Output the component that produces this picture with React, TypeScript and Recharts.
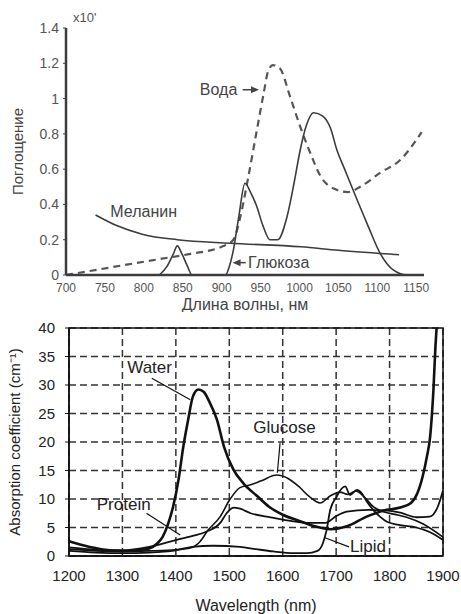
import {
	CartesianGrid,
	Line,
	LineChart,
	ReferenceArea,
	ReferenceDot,
	ReferenceLine,
	XAxis,
	YAxis,
} from "recharts";

const FONT = "'Liberation Sans', Arial, sans-serif";

// --- top chart (700-1150 nm) ---
const topXTicks = [700, 750, 800, 850, 900, 950, 1000, 1050, 1100, 1150];
const topYTicks = [0, 0.2, 0.4, 0.6, 0.8, 1, 1.2, 1.4];

const vodaNm = [700, 740, 780, 820, 860, 900, 915, 924, 934, 946, 954, 960, 966, 975, 988, 1001, 1014, 1027, 1044, 1062, 1078, 1104, 1129, 1157];
const vodaVal = [0, 0.03, 0.06, 0.09, 0.12, 0.16, 0.2, 0.33, 0.55, 0.84, 1.03, 1.16, 1.19, 1.17, 1.01, 0.84, 0.69, 0.56, 0.49, 0.47, 0.5, 0.58, 0.65, 0.81];

const glukozaNm = [820, 830, 838, 843, 849, 856, 862, 905, 910, 915, 922, 930, 937, 945, 953, 962, 972, 984, 993, 1001, 1009, 1018, 1030, 1040, 1048, 1058, 1069, 1087, 1104, 1120, 1138, 1150];
const glukozaVal = [0, 0.05, 0.12, 0.165, 0.12, 0.05, 0, 0, 0.05, 0.14, 0.33, 0.52, 0.47, 0.39, 0.28, 0.2, 0.2, 0.33, 0.52, 0.71, 0.85, 0.92, 0.9, 0.83, 0.71, 0.6, 0.48, 0.29, 0.12, 0.03, 0, 0];

const melaninNm = [738, 765, 799, 843, 911, 1002, 1050, 1128];
const melaninVal = [0.34, 0.28, 0.23, 0.2, 0.18, 0.16, 0.14, 0.115];

// --- bottom chart (1200-1900 nm) ---
const botXTicks = [1200, 1300, 1400, 1500, 1600, 1700, 1800, 1900];
const botYTicks = [0, 5, 10, 15, 20, 25, 30, 35, 40];

const waterNm = [1200, 1230, 1260, 1300, 1330, 1350, 1365, 1375, 1385, 1395, 1405, 1414, 1423, 1432, 1442, 1452, 1463, 1477, 1490, 1508, 1526, 1551, 1575, 1601, 1630, 1660, 1690, 1720, 1757, 1789, 1820, 1840, 1852, 1862, 1870, 1876, 1882, 1886, 1888];
const waterVal = [2.6, 1.8, 1.2, 0.9, 1.0, 1.3, 2.2, 3.3, 5.5, 8.7, 13.4, 19.2, 23.9, 28, 29.2, 28.8, 27, 23.9, 19.2, 15.1, 12.8, 10.6, 8.6, 7.2, 6.2, 5.2, 4.7, 5.2, 6.9, 8.0, 8.5, 9.3, 11, 14, 17.5, 21, 29, 37, 40];

const proteinNm = [1200, 1250, 1300, 1350, 1400, 1430, 1458, 1483, 1495, 1508, 1520, 1540, 1570, 1600, 1650, 1680, 1700, 1720, 1760, 1790, 1820, 1850, 1875, 1890, 1900];
const proteinVal = [1.5, 1.1, 1.0, 1.6, 2.8, 3.5, 4.3, 5.8, 7.5, 8.5, 8.3, 7.5, 6.9, 6.4, 5.8, 5.8, 7, 7.8, 8.1, 8.0, 7.6, 6.8, 6.9, 8.6, 11.5];

const glucoseNm = [1200, 1250, 1300, 1350, 1400, 1430, 1445, 1460, 1483, 1501, 1520, 1540, 1560, 1589, 1610, 1630, 1650, 1670, 1690, 1707, 1722, 1737, 1752, 1770, 1790, 1810, 1832, 1863, 1900];
const glucoseVal = [1.2, 0.9, 0.8, 0.9, 1.1, 1.5, 2.5, 4.5, 6.9, 9.9, 12, 12.5, 13.2, 14.2, 13.6, 12.2, 10.4, 9.3, 10.6, 11.2, 10.8, 11.4, 10.4, 8.6, 7.7, 7.3, 6.8, 5.6, 3.3];

const lipidNm = [1200, 1250, 1300, 1350, 1400, 1430, 1470, 1520, 1550, 1582, 1620, 1645, 1665, 1675, 1682, 1689, 1701, 1710, 1717, 1726, 1739, 1748, 1757, 1770, 1782, 1795, 1820, 1850, 1875, 1900];
const lipidVal = [0.9, 0.6, 0.5, 0.6, 1.0, 1.6, 1.8, 1.6, 1.2, 0.8, 0.5, 0.5, 0.9, 2.2, 4.5, 8.1, 10.4, 11.8, 12.2, 10.7, 11.6, 11, 9.6, 8, 6.9, 6.0, 5.4, 5.0, 4.2, 2.8];

const toPoints = (nm: number[], v: number[]) => nm.map((x, i) => ({ nm: x, v: v[i] }));

const textMark =
	(text: string, size: number, fill: string) =>
	(p: any) => (
		<text
			x={p.cx}
			y={p.cy}
			fontSize={size}
			fill={fill}
			fontFamily={FONT}
			dominantBaseline="central"
		>
			{text}
		</text>
	);

const arrowHead =
	(dir: number, fill: string) =>
	(p: any) => (
		<polygon
			points={`${p.cx},${p.cy} ${p.cx - dir * 8},${p.cy - 3.5} ${p.cx - dir * 8},${p.cy + 3.5}`}
			fill={fill}
		/>
	);

const TOP_INK = "#3c3c3c";
const BOT_INK = "#111";

function TopChart() {
	return (
		<LineChart
			width={461}
			height={312}
			margin={{ top: 28, right: 37, bottom: 0, left: 0 }}
		>
			<XAxis
				type="number"
				dataKey="nm"
				domain={[700, 1160]}
				ticks={topXTicks}
				tickLine={false}
				tickSize={0}
				tickMargin={8}
				height={37}
				axisLine={{ stroke: TOP_INK, strokeWidth: 2.5 }}
				tick={{ fontSize: 12, fill: "#555", fontFamily: FONT }}
				label={{
					value: "Длина волны, нм",
					position: "insideBottom",
					offset: 2,
					fontSize: 16,
					fill: "#444",
					fontFamily: FONT,
				}}
			/>
			<YAxis
				type="number"
				domain={[0, 1.4]}
				ticks={topYTicks}
				width={66}
				tickSize={3}
				tickMargin={4}
				tickLine={{ stroke: TOP_INK }}
				axisLine={{ stroke: TOP_INK, strokeWidth: 2.5 }}
				tick={{ fontSize: 14, fill: "#555", fontFamily: FONT }}
				label={{
					value: "Поглощение",
					angle: -90,
					position: "insideLeft",
					offset: 18,
					fontSize: 15,
					fill: "#444",
					fontFamily: FONT,
					textAnchor: "middle",
				}}
			/>
			<Line
				data={toPoints(vodaNm, vodaVal)}
				dataKey="v"
				type="monotone"
				stroke="#555"
				strokeWidth={2.2}
				strokeDasharray="7 5"
				dot={false}
				isAnimationActive={false}
			/>
			<Line
				data={toPoints(glukozaNm, glukozaVal)}
				dataKey="v"
				type="monotone"
				stroke={TOP_INK}
				strokeWidth={1.6}
				dot={false}
				isAnimationActive={false}
			/>
			<Line
				data={toPoints(melaninNm, melaninVal)}
				dataKey="v"
				type="monotone"
				stroke={TOP_INK}
				strokeWidth={1.6}
				dot={false}
				isAnimationActive={false}
			/>
			<ReferenceDot x={709} y={1.46} ifOverflow="visible" shape={textMark("x10'", 13, "#555")} />
			<ReferenceDot x={872} y={1.05} shape={textMark("Вода", 16, "#444")} />
			<ReferenceLine segment={[{ x: 927, y: 1.05 }, { x: 942, y: 1.05 }]} stroke="#444" strokeWidth={1.5} />
			<ReferenceDot x={948} y={1.05} shape={arrowHead(1, "#444")} />
			<ReferenceDot x={757} y={0.36} shape={textMark("Меланин", 16, "#444")} />
			<ReferenceDot x={934} y={0.07} shape={textMark("Глюкоза", 16, "#444")} />
			<ReferenceLine segment={[{ x: 921, y: 0.07 }, { x: 931, y: 0.07 }]} stroke="#444" strokeWidth={1.5} />
			<ReferenceDot x={914} y={0.07} shape={arrowHead(-1, "#444")} />
		</LineChart>
	);
}

function BottomChart() {
	const series = [
		{ nm: waterNm, v: waterVal, w: 2.6 },
		{ nm: proteinNm, v: proteinVal, w: 1.8 },
		{ nm: glucoseNm, v: glucoseVal, w: 1.6 },
		{ nm: lipidNm, v: lipidVal, w: 1.8 },
	];
	return (
		<LineChart
			width={461}
			height={314}
			margin={{ top: 28, right: 18, bottom: 0, left: 5 }}
		>
			<CartesianGrid strokeDasharray="7 4" stroke="#333" strokeWidth={1.5} />
			<XAxis
				type="number"
				dataKey="nm"
				domain={[1200, 1900]}
				ticks={botXTicks}
				tickLine={false}
				tickSize={0}
				tickMargin={14}
				height={58}
				axisLine={{ stroke: BOT_INK, strokeWidth: 1.5 }}
				tick={{ fontSize: 15, fill: "#222", fontFamily: FONT }}
				label={{
					value: "Wavelength (nm)",
					position: "insideBottom",
					offset: 3,
					fontSize: 16,
					fill: "#222",
					fontFamily: FONT,
				}}
			/>
			<YAxis
				type="number"
				domain={[0, 40]}
				ticks={botYTicks}
				width={64}
				tickSize={4}
				tickMargin={10}
				tickLine={{ stroke: BOT_INK }}
				axisLine={{ stroke: BOT_INK, strokeWidth: 1.5 }}
				tick={{ fontSize: 15, fill: "#222", fontFamily: FONT }}
				label={{
					value: "Absorption coefficient (cm⁻¹)",
					angle: -90,
					position: "insideLeft",
					offset: 10,
					fontSize: 15,
					fill: "#222",
					fontFamily: FONT,
					textAnchor: "middle",
				}}
			/>
			<ReferenceArea
				x1={1200}
				x2={1900}
				y1={0}
				y2={40}
				fillOpacity={0}
				stroke={BOT_INK}
				strokeWidth={1.5}
			/>
			{series.map((s, i) => (
				<Line
					key={i}
					data={toPoints(s.nm, s.v)}
					dataKey="v"
					type="monotone"
					stroke={BOT_INK}
					strokeWidth={s.w}
					dot={false}
					isAnimationActive={false}
				/>
			))}
			<ReferenceDot x={1309} y={33} shape={textMark("Water", 17, "#222")} />
			<ReferenceLine segment={[{ x: 1355, y: 31.2 }, { x: 1427, y: 27.4 }]} stroke={BOT_INK} strokeWidth={1.2} />
			<ReferenceDot x={1545} y={22.5} shape={textMark("Glucose", 17, "#222")} />
			<ReferenceLine segment={[{ x: 1595, y: 19.8 }, { x: 1590, y: 14.6 }]} stroke={BOT_INK} strokeWidth={1.2} />
			<ReferenceDot x={1252} y={9.1} shape={textMark("Protein", 17, "#222")} />
			<ReferenceLine segment={[{ x: 1345, y: 7.5 }, { x: 1408, y: 3.7 }]} stroke={BOT_INK} strokeWidth={1.2} />
			<ReferenceDot x={1726} y={1.6} shape={textMark("Lipid", 17, "#222")} />
			<ReferenceLine segment={[{ x: 1679, y: 3.2 }, { x: 1724, y: 1.6 }]} stroke={BOT_INK} strokeWidth={1.2} />
		</LineChart>
	);
}

export default function App() {
	return (
		<div
			style={{
				position: "absolute",
				left: 0,
				top: 0,
				width: 461,
				height: 614,
				background: "#fff",
				overflow: "hidden",
			}}
		>
			<div style={{ position: "absolute", left: 0, top: 0 }}>
				<TopChart />
			</div>
			<div style={{ position: "absolute", left: 0, top: 300 }}>
				<BottomChart />
			</div>
		</div>
	);
}
